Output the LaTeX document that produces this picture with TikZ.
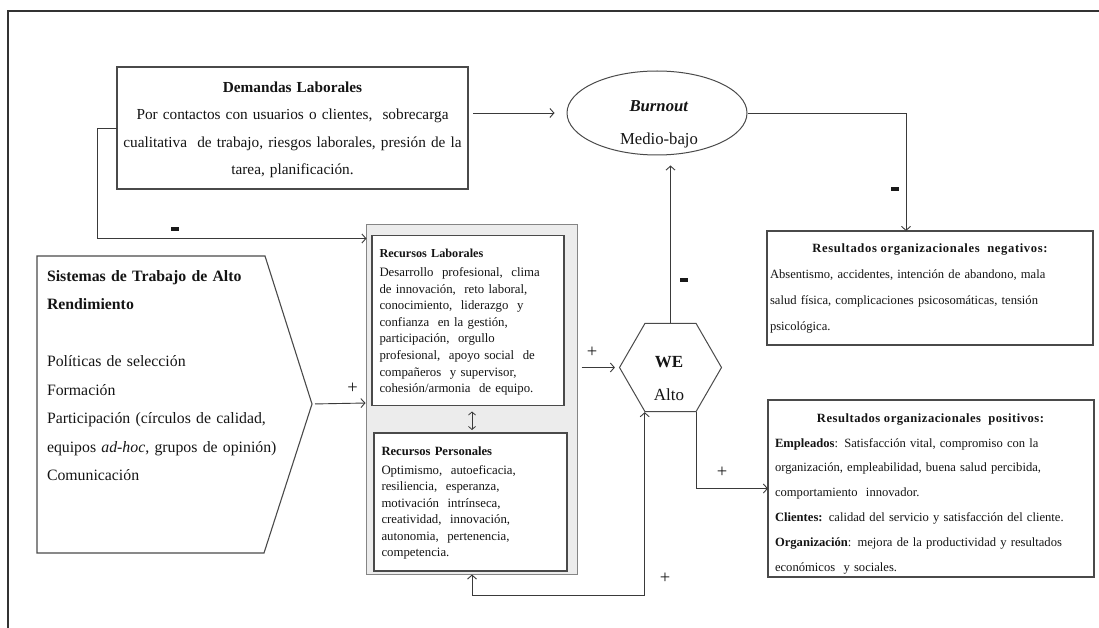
\documentclass[tikz,border=0pt]{standalone}
\usepackage{fontspec}
\setmainfont{Liberation Serif}
\usetikzlibrary{shapes.geometric,arrows.meta,calc}
\newcommand\jl[1]{\leavevmode\hbox to \hsize{#1}}
\newcommand\jw[2]{\leavevmode\hbox to #1{#2}}
\definecolor{lncol}{HTML}{3A3A3A}
\definecolor{bxcol}{HTML}{4A4A4A}
\definecolor{contfill}{HTML}{ECECEC}
\definecolor{contdraw}{HTML}{858585}
\begin{document}
\begin{tikzpicture}[x=1pt,y=-1pt,
  box/.style={draw=bxcol, line width=1.1pt, fill=white, inner sep=0pt, outer sep=0pt},
  conn/.style={draw=lncol, line width=0.9pt, -{Straight Barb[length=4pt,width=9pt]}},
  dconn/.style={draw=lncol, line width=0.9pt, {Straight Barb[length=4pt,width=9pt]}-{Straight Barb[length=4pt,width=9pt]}},
  txt/.style={inner sep=0pt, outer sep=0pt, text=black!92},
  lbl/.style={inner sep=0pt, outer sep=0pt, font=\fontsize{18.5}{18.5}\selectfont, text=black!90},
  mlbl/.style={inner sep=0pt, outer sep=0pt, text=black!90}
]
\useasboundingbox (0,0) rectangle (1099,628);
% outer frame
\draw[line width=1.5pt, black!80] (1099,11) -- (8,11) -- (8,628);

% Demandas Laborales
\node[box, anchor=north west, minimum width=351, minimum height=122] (dem) at (117,67) {};
\node[txt, anchor=base, text width=349, align=center, font=\fontsize{15.3}{27.5}\selectfont] (demtxt) at (292.5,92.5)
  {\textbf{Demandas Laborales}\\
   Por contactos con usuarios o clientes,\ \ sobrecarga\\
   cualitativa\ \ de trabajo, riesgos laborales, presión de la\\
   tarea, planificación.};

% Burnout ellipse
\node[ellipse, draw=bxcol, line width=1pt, minimum width=180, minimum height=84, inner sep=0pt] (burn) at (657,113) {};
\node[txt, anchor=base, text width=150, align=center, font=\fontsize{16.7}{33.3}\selectfont] (burntxt) at (659,111.7)
  {\textbf{\textit{Burnout}}\\Medio-bajo};

% Sistemas de Trabajo (pentagon)
\draw[draw=bxcol, line width=1.1pt] (37,256) -- (265,256) -- (312,404) -- (264,553) -- (37,553) -- cycle;
\coordinate (sys) at (312,404);
\node[txt, anchor=base west, text width=255, align=left, font=\fontsize{15.8}{28.5}\selectfont] (systxt) at (47,281)
  {\textbf{Sistemas de Trabajo de Alto}\\
   \textbf{Rendimiento}\\
   ~\\
   Políticas de selección\\
   Formación\\
   Participación (círculos de calidad,\\
   equipos \textit{ad-hoc}, grupos de opinión)\\
   Comunicación};

% Recursos container
\node[draw=contdraw, fill=contfill, line width=1.6pt, anchor=north west, minimum width=211, minimum height=350, inner sep=0pt, outer sep=0pt] (cont) at (366.5,224.5) {};
\node[box, anchor=north west, minimum width=192, minimum height=170] (rl) at (372,235.5) {};
\node[box, anchor=north west, minimum width=193, minimum height=138] (rp) at (374,433) {};
\node[txt, anchor=base west, text width=182, align=left, font=\fontsize{12.8}{16.6}\selectfont] (rltxt) at (379.5,257)
  {{\fontsize{12.2}{16.6}\selectfont\bfseries Recursos Laborales}\\[2.8pt]
   Desarrollo\ \ profesional,\ \ clima\\
   de innovación,\ \ reto laboral,\\
   conocimiento,\ \ liderazgo\ \ y\\
   confianza\ \ en la gestión,\\
   participación,\ \ orgullo\\
   profesional,\ \ apoyo social\ \ de\\
   compañeros\ \ y supervisor,\\
   cohesión/armonia\ \ de equipo.};
\node[txt, anchor=base west, text width=182, align=left, font=\fontsize{12.8}{16.5}\selectfont] (rptxt) at (381.5,455)
  {{\fontsize{12.6}{16.5}\selectfont\bfseries Recursos Personales}\\[2.5pt]
   Optimismo,\ \ autoeficacia,\\
   resiliencia,\ \ esperanza,\\
   motivación\ \ intrínseca,\\
   creatividad,\ \ innovación,\\
   autonomia,\ \ pertenencia,\\
   competencia.};

% WE hexagon
\node[regular polygon, regular polygon sides=6, minimum size=102, draw=bxcol, line width=1pt, inner sep=0pt] (we) at (670.5,367.5) {};
\node[txt, anchor=base, text width=60, align=center, font=\fontsize{17}{33}\selectfont] (wetxt) at (669,367.7)
  {\textbf{WE}\\Alto};

% Negative results
\node[box, anchor=north west, minimum width=326, minimum height=114] (neg) at (767,231) {};
\node[txt, anchor=base, font=\fontsize{12.6}{26}\selectfont\bfseries\addfontfeature{LetterSpace=5}] (negtitle) at (930,252)
  {Resultados organizacionales\ \ negativos:};
\node[txt, anchor=base west, text width=297, align=left, font=\fontsize{12.6}{26.2}\selectfont] (negtxt) at (770,278)
  {\jl{Absentismo, accidentes, intención de abandono, mala}\\
   \jl{salud física, complicaciones psicosomáticas, tensión}\\
   psicológica.};

% Positive results
\node[box, anchor=north west, minimum width=326, minimum height=177] (pos) at (768,400) {};
\node[txt, anchor=base, font=\fontsize{12.6}{25}\selectfont\bfseries\addfontfeature{LetterSpace=4}] (postitle) at (930.5,422)
  {Resultados organizacionales\ \ positivos:};
\node[txt, anchor=base west, text width=312, align=left, font=\fontsize{12.6}{24.8}\selectfont] (postxt) at (775,447)
  {\jl{\textbf{Empleados}: Satisfacción vital, compromiso con la}\\
   \jl{organización, empleabilidad, buena salud percibida,}\\
   comportamiento\ \ innovador.\\
   \jw{302pt}{\textbf{Clientes:} calidad del servicio y satisfacción del cliente.}\\
   \jl{\textbf{Organización}: mejora de la productividad y resultados}\\
   económicos\ \ y sociales.};

% connectors
\draw[conn, shorten <=5pt, shorten >=12pt] (burn.west -| dem.east) -- (burn.west);
\draw[conn] (burn.east) -| ([xshift=-24pt]neg.north);
\draw[conn, shorten >=10pt] (we.north) -- (we.north |- burn.south);
\draw[conn] (dem.west) -- ++(-20,0) |- ([yshift=-14pt]cont.north west);
\draw[conn, shorten <=3pt, shorten >=1pt] (sys) -- ([yshift=1pt]sys -| cont.west);
\draw[conn, shorten <=4pt, shorten >=4pt] (cont.east |- we.west) -- (we.west);
\draw[conn] (we.300) |- (pos.west);
\draw[dconn] (cont.south) -- ++(0,21) -| (we.240);
\draw[draw=lncol, line width=0.8pt, {Straight Barb[length=3pt,width=7pt]}-{Straight Barb[length=3pt,width=7pt]}, shorten <=6pt, shorten >=3pt]
  ([xshift=4pt]rl.south) -- ([xshift=4pt]rl.south |- rp.north);

% signs
\node[mlbl] (m1) at (175,229) {\rule{8pt}{3.3pt}};
\node[mlbl] (m2) at (895,189) {\rule{8pt}{3.3pt}};
\node[mlbl] (m3) at (684,280) {\rule{8pt}{3.3pt}};
\node[lbl] (p1) at (352.5,388) {+};
\node[lbl] (p2) at (592,352) {+};
\node[lbl] (p3) at (722,472) {+};
\node[lbl] (p4) at (665,578) {+};
\end{tikzpicture}
\end{document}
